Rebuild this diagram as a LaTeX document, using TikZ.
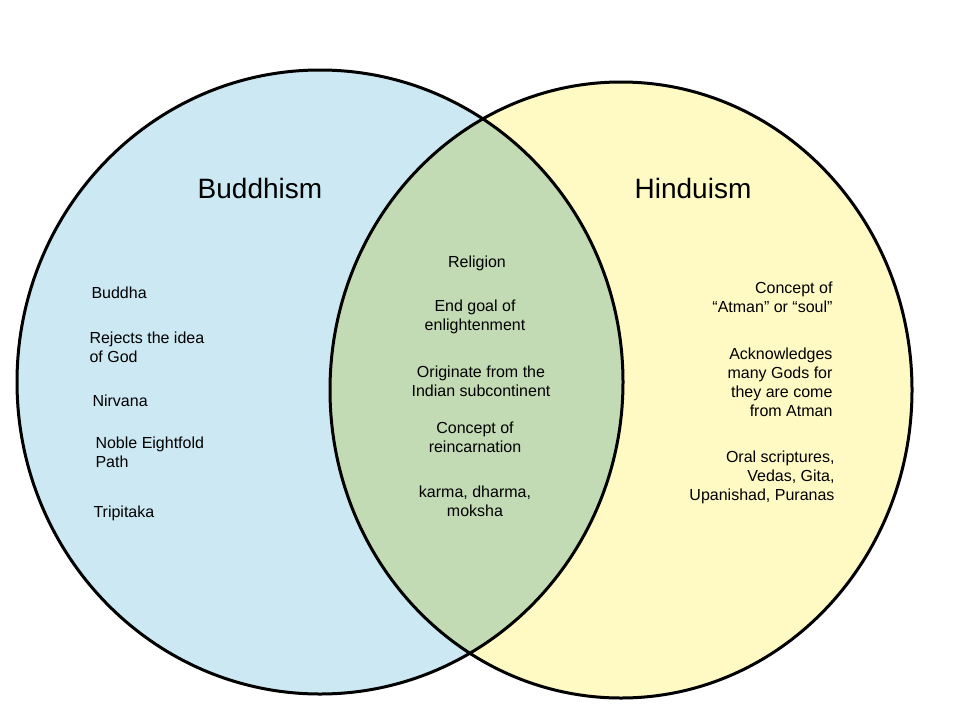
\documentclass[tikz,border=0pt]{standalone}
\usepackage{fontspec}
\setmainfont{Liberation Sans}
\definecolor{budblue}{HTML}{CCE9F3}
\definecolor{hinyellow}{HTML}{FFF9C4}
\definecolor{bothgreen}{HTML}{C3DBB4}
\tikzset{
  title/.style={font=\fontsize{28}{32}\selectfont},
  item/.style={font=\fontsize{16}{19}\selectfont, align=left, anchor=north west},
  citem/.style={font=\fontsize{16}{19}\selectfont, align=center, anchor=north},
}
\begin{document}
\begin{tikzpicture}[x=1pt,y=-1pt]
    \useasboundingbox (0,0) rectangle (960,720);

    \fill[budblue] (320,382) ellipse [x radius=303, y radius=312];
    \fill[hinyellow] (621,390) ellipse [x radius=291, y radius=308];
    \begin{scope}
        \clip (320,382) ellipse [x radius=303, y radius=312];
        \fill[bothgreen] (621,390) ellipse [x radius=291, y radius=308];
    \end{scope}
    \draw[line width=3pt] (320,382) ellipse [x radius=303, y radius=312];
    \draw[line width=3pt] (621,390) ellipse [x radius=291, y radius=308];

    \node[title] (bud) at (260,188) {Buddhism};
    \node[title] (hin) at (693,188) {Hinduism};

    % Buddhism only
    \node[item] (b1) at (88,283) {Buddha};
    \node[item] (b2) at (86,328) {Rejects the idea\\of God};
    \node[item] (b3) at (89,391) {Nirvana};
    \node[item] (b4) at (92,433) {Noble Eightfold\\Path};
    \node[item] (b5) at (90,502) {Tripitaka};

    % shared
    \node[citem] (c1) at (477,252) {Religion};
    \node[citem] (c2) at (475,296) {End goal of\\enlightenment};
    \node[citem] (c3) at (481,362) {Originate from the\\Indian subcontinent};
    \node[citem] (c4) at (475,418) {Concept of\\reincarnation};
    \node[citem] (c5) at (475,482) {karma, dharma,\\moksha};

    % Hinduism only
    \node[item, align=right, anchor=north east] (h1) at (836,278) {Concept of\\“Atman” or “soul”};
    \node[item, align=right, anchor=north east] (h2) at (836,344) {Acknowledges\\many Gods for\\they are come\\from Atman};
    \node[item, align=right, anchor=north east] (h3) at (838,447) {Oral scriptures,\\Vedas, Gita,\\Upanishad, Puranas};
\end{tikzpicture}
\end{document}
